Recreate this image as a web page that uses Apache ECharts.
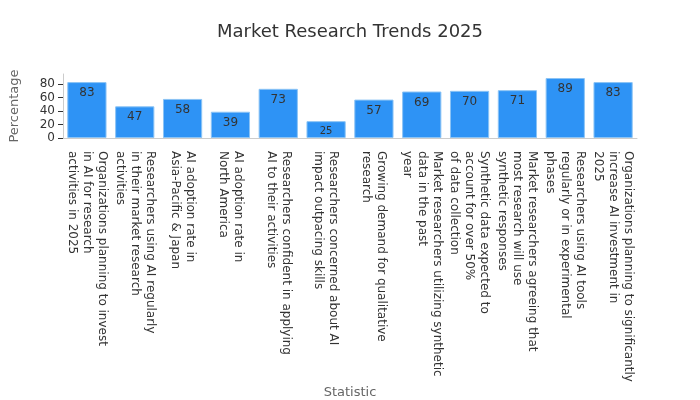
<!DOCTYPE html>
<html><head><meta charset="utf-8">
<script src="https://cdn.jsdelivr.net/npm/echarts@6/dist/echarts.min.js"></script>
<style>html,body{margin:0;padding:0;background:#fff}#c{width:700px;height:400px}</style>
</head><body><div id="c"></div>
<script>
const categories = [
 "Organizations planning to invest\nin AI for research\nactivities in 2025",
 "Researchers using AI regularly\nin their market research\nactivities",
 "AI adoption rate in\nAsia-Pacific & Japan",
 "AI adoption rate in\nNorth America",
 "Researchers confident in applying\nAI to their activities",
 "Researchers concerned about AI\nimpact outpacing skills",
 "Growing demand for qualitative\nresearch",
 "Market researchers utilizing synthetic\ndata in the past\nyear",
 "Synthetic data expected to\naccount for over 50%\nof data collection",
 "Market researchers agreeing that\nmost research will use\nsynthetic responses",
 "Researchers using AI tools\nregularly or in experimental\nphases",
 "Organizations planning to significantly\nincrease AI investment in\n2025"
];
const values = [83,47,58,39,73,25,57,69,70,71,89,83];
const yTicks = [0,20,40,60,80];
const chart = echarts.init(document.getElementById('c'));
chart.setOption({
 textStyle:{fontFamily:'DejaVu Sans'},
 title:{text:'Market Research Trends 2025',left:'center',top:18,textStyle:{fontSize:18,fontWeight:'normal',color:'#333'}},
 grid:{left:57,right:63,top:74,height:64},
 xAxis:{type:'category',data:categories,name:'Statistic',nameLocation:'middle',nameGap:248,
  nameTextStyle:{color:'#666',fontSize:13},
  axisLine:{lineStyle:{color:'#ccc'}},axisTick:{alignWithLabel:true,lineStyle:{color:'#333'}},
  axisLabel:{rotate:-90,interval:0,margin:13,color:'#333',fontSize:12,lineHeight:15,align:'left'}},
 yAxis:{type:'value',min:0,max:95,interval:20,name:'Percentage',nameLocation:'middle',nameGap:42,
  nameTextStyle:{color:'#666',fontSize:13},
  axisLabel:{color:'#333',fontSize:12,showMaxLabel:false,formatter:v=>yTicks.includes(v)?v:''},
  axisLine:{show:true,lineStyle:{color:'#ccc'}},axisTick:{show:true,lineStyle:{color:'#333'}},splitLine:{show:false}},
 series:[{type:'bar',data:values,barCategoryGap:'18%',
  itemStyle:{color:'#2E93F5',borderColor:'#8cc4f5',borderWidth:1},
  label:{show:true,position:'insideTop',color:'#333',fontSize:12,
   formatter:p=>p.value<30?'{s|'+p.value+'}':String(p.value),rich:{s:{fontSize:10,color:'#333'}}}}]
});
</script></body></html>
